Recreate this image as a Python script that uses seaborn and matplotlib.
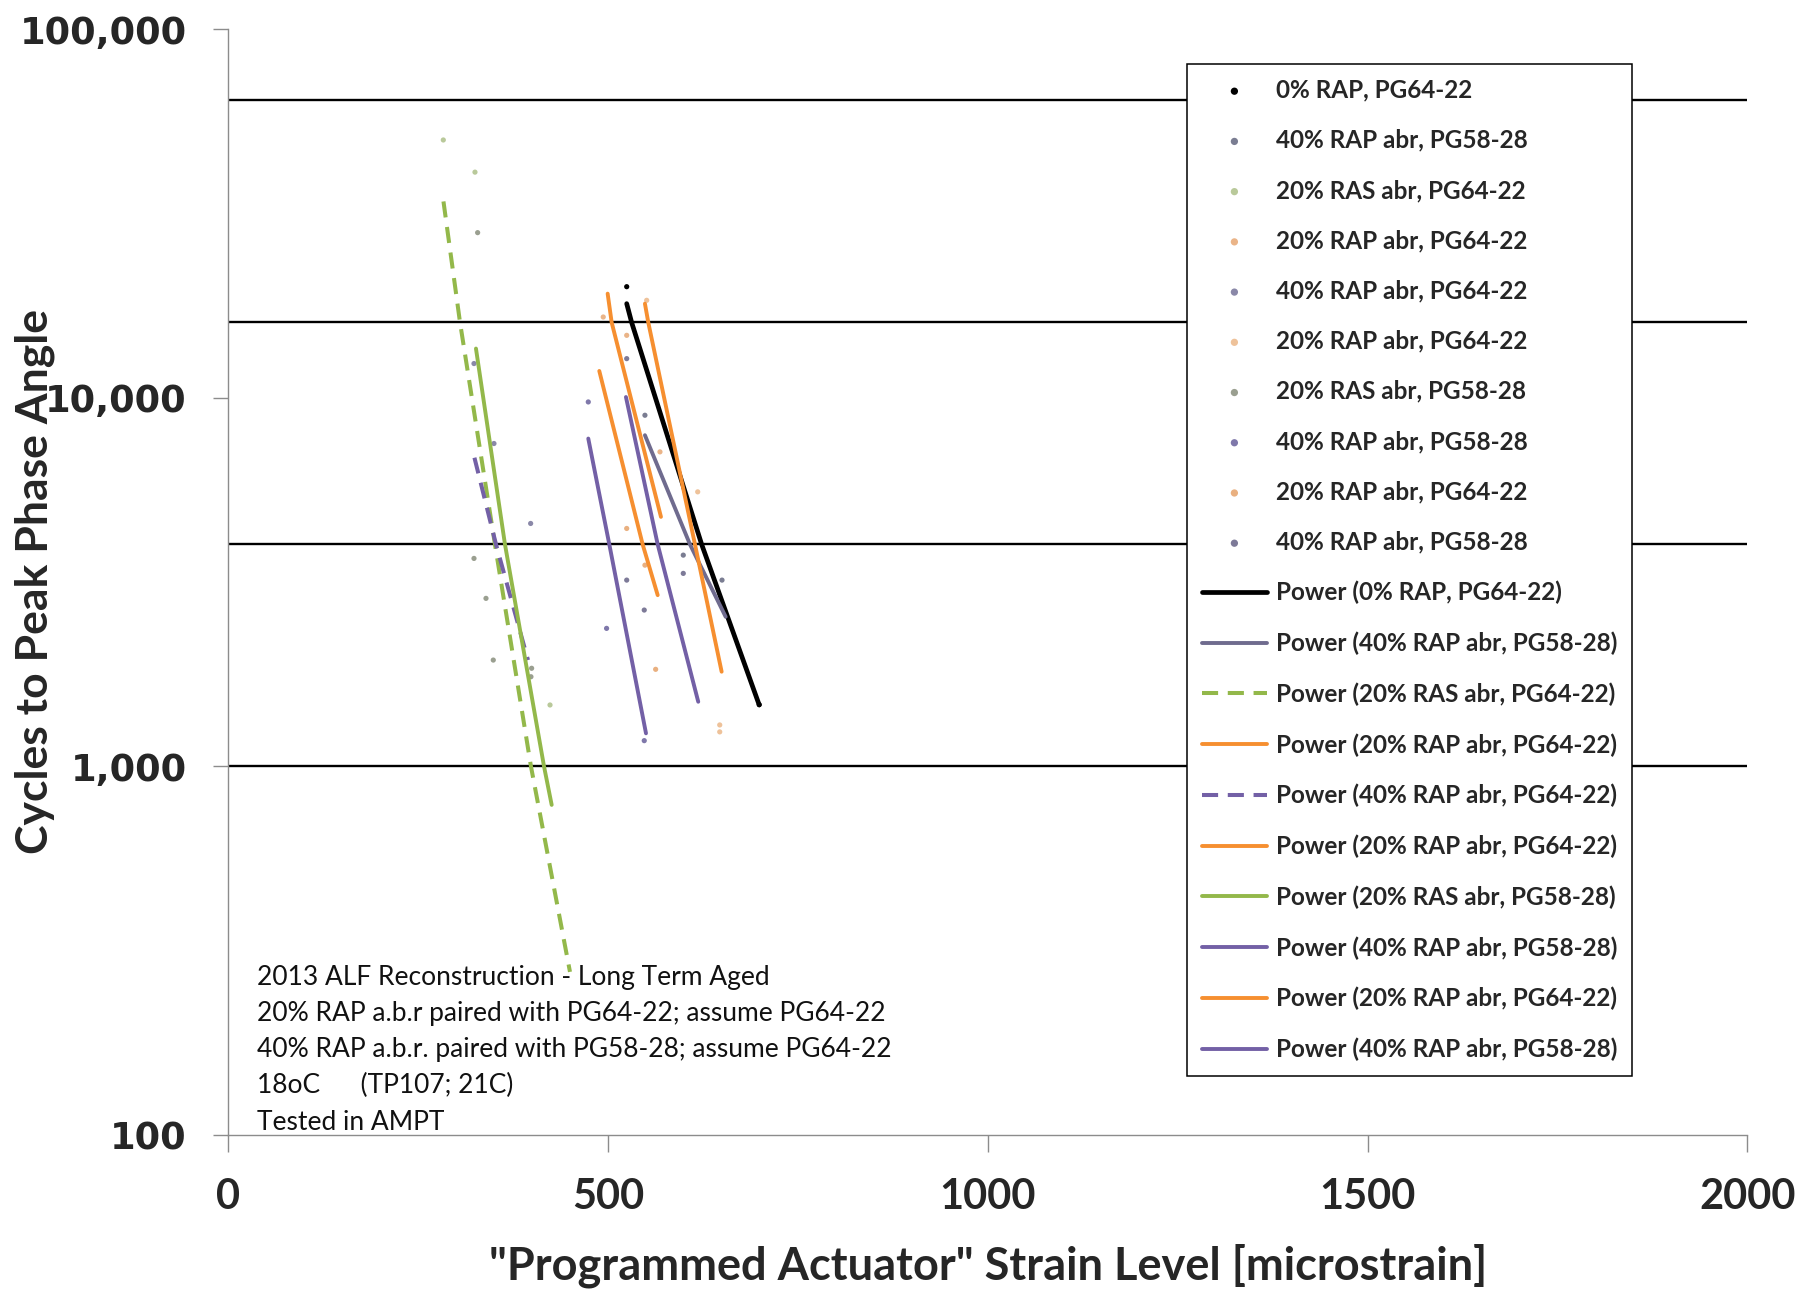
import matplotlib
matplotlib.use("Agg")
import matplotlib.pyplot as plt
import seaborn as sns
from matplotlib.ticker import FuncFormatter, FixedLocator, NullLocator

# ---------------- measured data (strain in microstrain, cycles) ----------------
# individual test results
pts_0rap_6422_x = [524.5, 699.0]
pts_0rap_6422_y = [20000, 1470]
pts_40rap_5828a_x = [548.5, 599.0, 650.0]
pts_40rap_5828a_y = [8960, 3740, 3200]
pts_20ras_6422_x = [283.0, 324.7, 423.5]
pts_20ras_6422_y = [50000, 40900, 1467]
pts_20rap_6422a_x = [493.6, 524.5, 568.3]
pts_20rap_6422a_y = [16550, 14760, 7128]
pts_40rap_6422_x = [323.4, 349.7, 398.0]
pts_40rap_6422_y = [12375, 7510, 4558]
pts_20rap_6422b_x = [550.8, 618.0, 647.0, 647.0]
pts_20rap_6422b_y = [18370, 5553, 1295, 1240]
pts_20ras_5828_x = [328.2, 323.4, 339.2, 348.8, 399.3, 398.4]
pts_20ras_5828_y = [28030, 3664, 2855, 1942, 1845, 1750]
pts_40rap_5828b_x = [473.9, 498.0, 547.6]
pts_40rap_5828b_y = [9736, 2367, 1174]
pts_20rap_6422c_x = [524.5, 548.5, 562.6]
pts_20rap_6422c_y = [4418, 3513, 1833]
pts_40rap_5828c_x = [524.5, 524.5, 547.6, 599.0]
pts_40rap_5828c_y = [12760, 3200, 2654, 3337]

# power trendlines
fit_0rap_6422_x = [524.5, 531.0, 623.2, 699.0]
fit_0rap_6422_y = [17990, 16000, 4000, 1467]
fit_40rap_5828a_x = [548.5, 607.8, 654.8]
fit_40rap_5828a_y = [7910, 4000, 2545]
fit_20ras_6422_x = [283.2, 305.0, 351.0, 398.4, 449.8]
fit_20ras_6422_y = [34060, 16000, 4000, 1000, 277]
fit_20rap_6422a_x = [499.4, 504.7, 569.6]
fit_20rap_6422a_y = [19150, 16000, 4750]
fit_40rap_6422_x = [324.0, 352.4, 394.5]
fit_40rap_6422_y = [6873, 4000, 1942]
fit_20rap_6422b_x = [548.5, 552.9, 614.4, 649.5]
fit_20rap_6422b_y = [17990, 16000, 4000, 1806]
fit_20ras_5828_x = [326.0, 364.2, 415.6, 425.7]
fit_20ras_5828_y = [13590, 4000, 1000, 786]
fit_40rap_5828b_x = [473.9, 501.6, 549.9]
fit_40rap_5828b_y = [7746, 4000, 1229]
fit_20rap_6422c_x = [488.4, 545.5, 565.3]
fit_20rap_6422c_y = [11815, 4000, 2913]
fit_40rap_5828c_x = [523.5, 565.3, 618.7]
fit_40rap_5828c_y = [10040, 4000, 1497]

point_labels = ["0% RAP, PG64-22", "40% RAP abr, PG58-28", "20% RAS abr, PG64-22",
                "20% RAP abr, PG64-22", "40% RAP abr, PG64-22", "20% RAP abr, PG64-22",
                "20% RAS abr, PG58-28", "40% RAP abr, PG58-28", "20% RAP abr, PG64-22",
                "40% RAP abr, PG58-28"]
fit_labels = ["Power (" + s + ")" for s in point_labels]

ref_lines = [1000, 4000, 16000, 64000]
x_ticks = [0, 500, 1000, 1500, 2000]
y_ticks = [100, 1000, 10000, 100000]

notes = ["2013 ALF Reconstruction - Long Term Aged",
         "20% RAP a.b.r paired with PG64-22; assume PG64-22",
         "40% RAP a.b.r. paired with PG58-28; assume PG64-22",
         "18oC      (TP107; 21C)",
         "Tested in AMPT"]

# ---------------- styling ----------------
BLACK = "#000000"
PURPLE = "#7360a6"
PURPLE_GRAY = "#6f6b8e"
GREEN = "#93b84a"
ORANGE = "#f68f30"
AXIS_GRAY = "#8c8c8c"

point_series = [
    (pts_0rap_6422_x, pts_0rap_6422_y, "#000000"),
    (pts_40rap_5828a_x, pts_40rap_5828a_y, "#7a7d92"),
    (pts_20ras_6422_x, pts_20ras_6422_y, "#b9c99a"),
    (pts_20rap_6422a_x, pts_20rap_6422a_y, "#eab488"),
    (pts_40rap_6422_x, pts_40rap_6422_y, "#8a88a8"),
    (pts_20rap_6422b_x, pts_20rap_6422b_y, "#eec29a"),
    (pts_20ras_5828_x, pts_20ras_5828_y, "#9a9f90"),
    (pts_40rap_5828b_x, pts_40rap_5828b_y, "#7f78aa"),
    (pts_20rap_6422c_x, pts_20rap_6422c_y, "#e9b080"),
    (pts_40rap_5828c_x, pts_40rap_5828c_y, "#7d7a98"),
]

DASH = (0, (4.0, 2.4))
fit_series = [
    (fit_0rap_6422_x, fit_0rap_6422_y, BLACK, "-", 3.4),
    (fit_40rap_5828a_x, fit_40rap_5828a_y, PURPLE_GRAY, "-", 2.8),
    (fit_20ras_6422_x, fit_20ras_6422_y, GREEN, DASH, 2.9),
    (fit_20rap_6422a_x, fit_20rap_6422a_y, ORANGE, "-", 2.8),
    (fit_40rap_6422_x, fit_40rap_6422_y, PURPLE, DASH, 2.9),
    (fit_20rap_6422b_x, fit_20rap_6422b_y, ORANGE, "-", 2.8),
    (fit_20ras_5828_x, fit_20ras_5828_y, GREEN, "-", 2.8),
    (fit_40rap_5828b_x, fit_40rap_5828b_y, PURPLE, "-", 2.8),
    (fit_20rap_6422c_x, fit_20rap_6422c_y, ORANGE, "-", 2.8),
    (fit_40rap_5828c_x, fit_40rap_5828c_y, PURPLE, "-", 2.8),
]

sns.set_theme(style="white")
plt.rcParams["font.family"] = ["Lato", "DejaVu Sans"]

W, H = 1818, 1290
fig = plt.figure(figsize=(W / 100, H / 100), dpi=100)
fig.patch.set_facecolor("white")
ax = fig.add_axes([228.4 / W, 1 - 1135 / H, (1747.2 - 228.4) / W, (1135 - 29) / H])
ax.set_facecolor("white")
ax.set_yscale("log")

for yv in ref_lines:
    ax.axhline(yv, color="black", lw=1.7, zorder=1)

for (xs, ys, col), lab in zip(point_series, point_labels):
    sns.scatterplot(x=xs, y=ys, ax=ax, color=col, s=14, marker="o",
                    edgecolor="none", label=lab, zorder=2, legend=False)

for (xs, ys, col, ls, lw), lab in zip(fit_series, fit_labels):
    sns.lineplot(x=xs, y=ys, ax=ax, color=col, linestyle=ls, linewidth=lw,
                 label=lab, zorder=3, legend=False, sort=True, estimator=None)

ax.set_xlim(0, 2000)
ax.set_ylim(100, 100000)

for side in ("top", "right"):
    ax.spines[side].set_visible(False)
for side in ("left", "bottom"):
    ax.spines[side].set_color(AXIS_GRAY)
    ax.spines[side].set_linewidth(1.0)

ax.xaxis.set_major_locator(FixedLocator(x_ticks))
ax.yaxis.set_major_locator(FixedLocator(y_ticks))
ax.yaxis.set_minor_locator(NullLocator())
ax.yaxis.set_major_formatter(FuncFormatter(lambda v, p: f"{int(round(v)):,}"))
ax.xaxis.set_major_formatter(FuncFormatter(lambda v, p: f"{int(v)}"))

ax.tick_params(axis="y", which="major", direction="out", length=11, width=1.0,
               color=AXIS_GRAY, pad=19, left=True)
ax.tick_params(axis="x", which="major", direction="out", length=12, width=1.0,
               color=AXIS_GRAY, pad=19, bottom=True)
for t in ax.get_yticklabels():
    t.set_fontfamily("DejaVu Sans")
    t.set_fontweight("bold")
    t.set_fontsize(26.5)
for t in ax.get_xticklabels():
    t.set_fontfamily("Lato")
    t.set_fontweight("bold")
    t.set_fontsize(30)

ax.set_xlabel('"Programmed Actuator" Strain Level [microstrain]', fontsize=32.5,
              fontweight="bold", va="center", ha="center")
ax.xaxis.set_label_coords(0.5, (1135 - 1266) / 1106)
ax.set_ylabel("Cycles to Peak Phase Angle", fontsize=32, fontweight="bold",
              va="center", ha="center")
ax.yaxis.set_label_coords((35 - 228.4) / 1518.8, 0.5)

handles, labels = ax.get_legend_handles_labels()
leg = ax.legend(handles, labels, loc="upper left",
                bbox_to_anchor=(1187 / W, 1 - 64 / H), bbox_transform=fig.transFigure,
                frameon=True, fancybox=False, framealpha=1, edgecolor="black",
                borderaxespad=0, borderpad=0.6, labelspacing=1.12,
                handlelength=2.7, handletextpad=0.35, scatterpoints=1,
                markerscale=1.4, prop={"family": "Lato", "weight": "bold", "size": 17.5})
leg.get_frame().set_linewidth(1.1)
leg.set_zorder(5)

for i, line in enumerate(notes):
    fig.text(257 / W, 1 - (985.5 + 36 * i) / H, line, fontsize=19,
             fontfamily="Lato", ha="left", va="baseline", color="#111111")

fig.savefig("out.png", dpi=100, facecolor="white")
